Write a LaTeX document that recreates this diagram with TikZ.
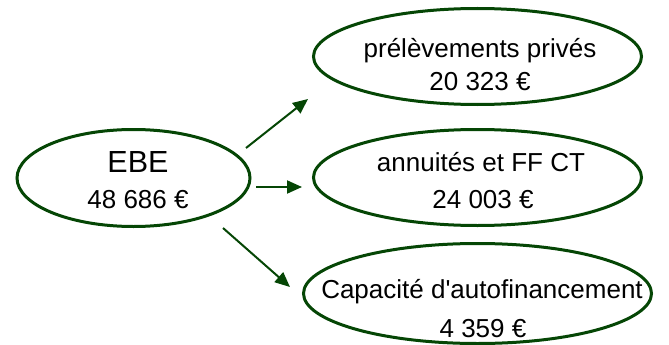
\documentclass[tikz,border=0pt]{standalone}
\usepackage{fontspec}
\setmainfont{Liberation Sans}[Ligatures=TeXOff]
\usetikzlibrary{arrows.meta}
\definecolor{dgreen}{RGB}{5,70,5}
\tikzset{
  oval/.style={draw=dgreen, line width=3pt},
  lbl/.style={inner sep=0pt, anchor=base, font=\fontsize{26}{30}\selectfont},
  big/.style={inner sep=0pt, anchor=base, font=\fontsize{30.5}{34}\selectfont},
  arr/.style={draw=dgreen, line width=2pt, -{Triangle[length=15pt,width=13pt]}}
}
\begin{document}
\begin{tikzpicture}[x=1pt,y=-1pt]
\useasboundingbox (0,0) rectangle (669,345);
% ellipses
\draw[oval] (133.5,178) ellipse [x radius=116.5, y radius=48.5];
\draw[oval] (477.5,56.5) ellipse [x radius=164, y radius=48];
\draw[oval] (477.5,177.5) ellipse [x radius=164, y radius=48];
\draw[oval] (477.5,293.5) ellipse [x radius=174, y radius=50];
% texts
\node[big] (ebe) at (138,172) {EBE};
\node[lbl] (ebev) at (138,208) {48 686 €};
\node[lbl] (pp) at (480,57) {prélèvements privés};
\node[lbl] (ppv) at (480,90) {20 323 €};
\node[lbl] (an) at (481,171) {annuités et FF CT};
\node[lbl] (anv) at (483,208) {24 003 €};
\node[lbl] (caf) at (482,298) {Capacité d'autofinancement};
\node[lbl] (cafv) at (483,337) {4 359 €};
% arrows
\coordinate (a1s) at (246,148); \coordinate (a1e) at (308,99);
\coordinate (a2s) at (256,187); \coordinate (a2e) at (302,187);
\coordinate (a3s) at (223,228); \coordinate (a3e) at (290,287);
\draw[arr] (a1s) -- (a1e);
\draw[arr] (a2s) -- (a2e);
\draw[arr] (a3s) -- (a3e);
\end{tikzpicture}
\end{document}
